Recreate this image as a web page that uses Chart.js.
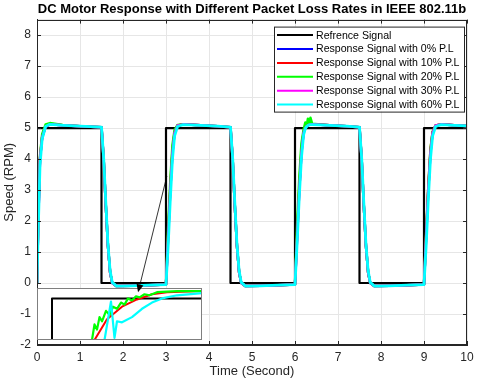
<!DOCTYPE html>
<html><head><meta charset="utf-8">
<script src="https://cdn.jsdelivr.net/npm/chart.js@4/dist/chart.umd.min.js"></script>
<style>
html,body{margin:0;padding:0;background:#fff;}
#wrap{position:relative;width:480px;height:385px;overflow:hidden;}
canvas{position:absolute;}
</style></head><body>
<div id="wrap">
<canvas id="main" width="480" height="385" style="left:0;top:0"></canvas>
<canvas id="inset" width="165" height="52" style="left:37px;top:288px"></canvas>
<canvas id="arrow" width="480" height="385" style="left:0;top:0;pointer-events:none"></canvas>
</div>
<script>
// ---------------- DATA ----------------
const chartTitle = 'DC Motor Response with Different Packet Loss Rates in IEEE 802.11b';
const xTitle = 'Time (Second)';
const yTitle = 'Speed (RPM)';
const seriesLabels = ['Refrence Signal','Response Signal with 0% P.L','Response Signal with 10% P.L',
  'Response Signal with 20% P.L','Response Signal with 30% P.L','Response Signal with 60% P.L'];

// reference square wave (value holds until next time)
const refTime  = [0, 1.5, 3, 4.5, 6, 7.5, 9, 10];
const refSpeed = [5, 0,   5, 0,   5, 0,   5, 5];

// sample times for the response signals
const timeS = [0,0.03,0.07,0.12,0.2,0.3,0.6,1.0,1.5,
  1.55,1.6,1.65,1.7,1.75,1.85,2.2,2.6,3.0,
  3.05,3.1,3.15,3.2,3.27,3.4,3.8,4.2,4.5,
  4.55,4.6,4.65,4.7,4.75,4.85,5.2,5.6,6.0,
  6.05,6.1,6.15,6.2,6.24,6.27,6.3,6.33,6.36,6.4,6.8,7.2,7.5,
  7.55,7.6,7.65,7.7,7.75,7.85,8.2,8.6,9.0,
  9.05,9.1,9.15,9.2,9.27,9.4,9.7,10.0];

const speedPL0 = [0,2.0,4.0,4.7,5.05,5.12,5.09,5.06,5.03,
  4.0,2.5,1.2,0.35,0.0,-0.1,-0.09,-0.07,-0.05,
  1.5,3.0,4.2,4.85,5.08,5.12,5.09,5.06,5.03,
  4.0,2.5,1.2,0.35,0.0,-0.1,-0.09,-0.07,-0.05,
  1.5,3.0,4.2,4.85,5.0,5.06,5.09,5.11,5.12,5.12,5.09,5.06,5.03,
  4.0,2.5,1.2,0.35,0.0,-0.1,-0.09,-0.07,-0.05,
  1.5,3.0,4.2,4.85,5.08,5.12,5.09,5.07];
const speedPL10 = [0,2.1,4.05,4.72,5.06,5.12,5.09,5.06,5.03,
  4.0,2.5,1.2,0.35,0.0,-0.1,-0.09,-0.07,-0.05,
  1.6,3.1,4.3,4.88,5.08,5.12,5.09,5.06,5.03,
  4.0,2.5,1.2,0.35,0.0,-0.1,-0.09,-0.07,-0.05,
  1.6,3.1,4.3,4.88,5.03,5.08,5.1,5.12,5.12,5.12,5.09,5.06,5.03,
  4.0,2.5,1.2,0.35,0.0,-0.1,-0.09,-0.07,-0.05,
  1.6,3.1,4.3,4.88,5.08,5.12,5.09,5.07];
const speedPL20 = [0,2.2,4.1,4.8,5.12,5.16,5.1,5.06,5.03,
  4.0,2.5,1.2,0.35,0.0,-0.1,-0.09,-0.07,-0.05,
  1.8,3.3,4.45,4.95,5.1,5.12,5.09,5.06,5.03,
  4.0,2.5,1.2,0.35,0.0,-0.1,-0.09,-0.07,-0.05,
  1.9,3.4,4.5,4.95,5.18,5.05,5.3,5.12,5.33,5.14,5.09,5.06,5.03,
  4.0,2.5,1.2,0.35,0.0,-0.1,-0.09,-0.07,-0.05,
  1.6,3.1,4.3,4.88,5.08,5.12,5.09,5.07];
const speedPL30 = [0,2.0,4.0,4.7,5.05,5.12,5.09,5.06,5.03,
  4.0,2.5,1.2,0.35,0.0,-0.1,-0.09,-0.07,-0.05,
  1.5,3.0,4.2,4.85,5.08,5.12,5.09,5.06,5.03,
  4.0,2.5,1.2,0.35,0.0,-0.1,-0.09,-0.07,-0.05,
  1.5,3.0,4.2,4.85,5.0,5.06,5.09,5.11,5.12,5.12,5.09,5.06,5.03,
  4.0,2.5,1.2,0.35,0.0,-0.1,-0.09,-0.07,-0.05,
  1.5,3.0,4.2,4.85,5.08,5.12,5.09,5.07];
const speedPL60 = [0,1.8,3.8,4.65,5.05,5.12,5.09,5.06,5.03,
  4.05,2.6,1.25,0.4,0.02,-0.1,-0.09,-0.07,-0.05,
  1.2,2.7,4.0,4.75,5.05,5.11,5.09,5.06,5.03,
  4.05,2.6,1.25,0.4,0.02,-0.1,-0.09,-0.07,-0.05,
  1.3,2.8,4.05,4.78,4.98,5.05,5.08,5.1,5.11,5.11,5.09,5.06,5.03,
  4.05,2.6,1.25,0.4,0.02,-0.1,-0.09,-0.07,-0.05,
  1.2,2.7,4.0,4.75,5.05,5.11,5.09,5.07];

// inset (magnified rising edge near t = 3 s)
const insetRefTime  = [3.0, 3.0, 3.3];
const insetRefSpeed = [4.0, 5.0, 5.0];
const insetRedTime  = [3.085,3.11,3.14,3.17,3.2,3.23,3.3];
const insetRedSpeed = [4.6,4.8,4.92,4.99,5.04,5.06,5.07];
const insetGreenTime  = [3.08,3.085,3.09,3.095,3.1,3.108,3.115,3.122,3.13,3.138,3.145,3.152,3.16,3.168,3.175,3.185,3.195,3.21,3.25,3.3];
const insetGreenSpeed = [4.6,4.75,4.7,4.82,4.78,4.88,4.84,4.92,4.9,4.96,4.94,5.0,4.98,5.02,5.01,5.04,5.03,5.06,5.07,5.07];
const insetCyanTime  = [3.105,3.118,3.125,3.13,3.14,3.16,3.18,3.2,3.22,3.25,3.3];
const insetCyanSpeed = [4.6,4.97,4.62,4.78,4.77,4.82,4.9,4.96,5.0,5.03,5.05];

// ---------------- STYLE ----------------
const FONT = "'Liberation Sans', Arial, Helvetica, sans-serif";
Chart.defaults.font.family = FONT;
Chart.defaults.color = '#262626';
const colors = ['#000000','#0000ff','#ff0000','#00ff00','#ff00ff','#00ffff'];
const widths = [2.2, 2.5, 2.5, 2.5, 2.5, 2.8];
const drawOrder = [5, 4, 3, 2, 1, 0]; // cyan on top

const pts = (xs, ys) => xs.map((x, i) => ({x, y: ys[i]}));
const respSeries = [speedPL0, speedPL10, speedPL20, speedPL30, speedPL60];

const datasets = [{
  label: seriesLabels[0], data: pts(refTime, refSpeed), stepped: 'before',
  borderColor: colors[0], borderWidth: widths[0], order: drawOrder[0]
}].concat(respSeries.map((s, k) => ({
  label: seriesLabels[k + 1], data: pts(timeS, s),
  borderColor: colors[k + 1], borderWidth: widths[k + 1], order: drawOrder[k + 1]
})));

const frame = {
  id: 'frame',
  afterDatasetsDraw(chart) {
    const ctx = chart.ctx, ca = chart.chartArea, xs = chart.scales.x, ys = chart.scales.y;
    ctx.save();
    ctx.strokeStyle = '#262626'; ctx.lineWidth = 1;
    ctx.beginPath();
    xs.ticks.forEach(t => {
      const px = Math.round(xs.getPixelForValue(t.value)) + 0.5;
      ctx.moveTo(px, ca.bottom); ctx.lineTo(px, ca.bottom - 4);
      ctx.moveTo(px, ca.top); ctx.lineTo(px, ca.top + 4);
    });
    ys.ticks.forEach(t => {
      if (!Number.isInteger(t.value)) return;
      const py = Math.round(ys.getPixelForValue(t.value)) + 0.5;
      ctx.moveTo(ca.left, py); ctx.lineTo(ca.left + 4, py);
      ctx.moveTo(ca.right, py); ctx.lineTo(ca.right - 4, py);
    });
    ctx.stroke();
    ctx.strokeRect(Math.round(ca.left) + 0.5, Math.round(ca.top) + 0.5, Math.round(ca.right - ca.left) - 1, Math.round(ca.bottom - ca.top) - 1);
    ctx.restore();
  }
};

const boxLegend = {
  id: 'boxLegend',
  afterDatasetsDraw(chart) {
    const ctx = chart.ctx, ca = chart.chartArea;
    const x0 = ca.right - 193, y0 = ca.top + 7, w = 190, h = 85;
    ctx.save();
    ctx.fillStyle = '#fff'; ctx.fillRect(x0, y0, w, h);
    ctx.strokeStyle = '#262626'; ctx.lineWidth = 1;
    ctx.strokeRect(x0 + 0.5, y0 + 0.5, w, h);
    ctx.font = '10.6px ' + FONT; ctx.textBaseline = 'middle'; ctx.fillStyle = '#000';
    chart.data.datasets.forEach((ds, i) => {
      const y = y0 + 8.5 + i * 13.9;
      ctx.strokeStyle = ds.borderColor; ctx.lineWidth = 2;
      ctx.beginPath(); ctx.moveTo(x0 + 3, y); ctx.lineTo(x0 + 39, y); ctx.stroke();
      ctx.fillText(ds.label, x0 + 42, y + 0.5);
    });
    ctx.restore();
  }
};

const arrowPlugin = {
  id: 'arrow',
  afterRender(chart) {
    const c = document.getElementById('arrow'), ctx = c.getContext('2d');
    const xs = chart.scales.x, ys = chart.scales.y;
    const x1 = xs.getPixelForValue(3.02), y1 = ys.getPixelForValue(3.45);
    const x2 = xs.getPixelForValue(2.35), y2 = ys.getPixelForValue(-0.3);
    ctx.clearRect(0, 0, c.width, c.height);
    ctx.strokeStyle = '#000'; ctx.fillStyle = '#000'; ctx.lineWidth = 0.8;
    const ang = Math.atan2(y2 - y1, x2 - x1), L = 8, W = 3.5;
    const bx = x2 - L * Math.cos(ang), by = y2 - L * Math.sin(ang);
    ctx.beginPath(); ctx.moveTo(x1, y1); ctx.lineTo(bx, by); ctx.stroke();
    ctx.beginPath();
    ctx.moveTo(x2, y2);
    ctx.lineTo(bx + W * Math.sin(ang), by - W * Math.cos(ang));
    ctx.lineTo(bx - W * Math.sin(ang), by + W * Math.cos(ang));
    ctx.closePath(); ctx.fill();
  }
};

new Chart(document.getElementById('main'), {
  type: 'line',
  data: { datasets },
  options: {
    responsive: false, animation: false, devicePixelRatio: 1,
    layout: { padding: { left: 0, right: 13, top: 0, bottom: 0 } },
    elements: { point: { radius: 0 }, line: { tension: 0, borderJoinStyle: 'round', borderCapStyle: 'round' } },
    plugins: {
      legend: { display: false }, tooltip: { enabled: false },
      title: { display: true, text: chartTitle, fullSize: false, color: '#000',
        font: { size: 13, weight: 'bold' }, padding: { top: 2, bottom: 2 } }
    },
    scales: {
      x: { type: 'linear', min: 0, max: 10,
        ticks: { stepSize: 1, font: { size: 12 }, padding: 5, color: '#262626', maxRotation: 0 },
        grid: { color: '#e6e6e6', drawTicks: false },
        border: { color: '#262626' },
        title: { display: true, text: xTitle, font: { size: 13 }, color: '#262626', padding: { top: 6, bottom: 6 } },
        afterFit(s) { s.height = 40; } },
      y: { type: 'linear', min: -2, max: 8.5,
        ticks: { stepSize: 1, font: { size: 12 }, padding: 6, color: '#262626',
          callback: v => Number.isInteger(v) ? v : '' },
        grid: { color: '#e6e6e6', drawTicks: false },
        border: { color: '#262626' },
        title: { display: true, text: yTitle, font: { size: 13 }, color: '#262626', padding: { top: 2, bottom: 2 } },
        afterFit(s) { s.width = 37; } }
    }
  },
  plugins: [frame, boxLegend, arrowPlugin]
});

// ---------------- INSET ----------------
const insetFrame = {
  id: 'insetFrame',
  beforeDraw(chart) { const c = chart.ctx; c.save(); c.fillStyle = '#fff'; c.fillRect(0, 0, chart.width, chart.height); c.restore(); },
  afterDraw(chart) { const c = chart.ctx; c.save(); c.strokeStyle = '#7f7f7f'; c.lineWidth = 1; c.strokeRect(0.5, 0.5, chart.width - 1, chart.height - 1); c.restore(); }
};
new Chart(document.getElementById('inset'), {
  type: 'line',
  data: { datasets: [
    { label: seriesLabels[0], data: pts(insetRefTime, insetRefSpeed), borderColor: colors[0], borderWidth: 2, order: 3 },
    { label: seriesLabels[2], data: pts(insetRedTime, insetRedSpeed), borderColor: colors[2], borderWidth: 2, order: 2 },
    { label: seriesLabels[3], data: pts(insetGreenTime, insetGreenSpeed), borderColor: colors[3], borderWidth: 2.2, order: 1 },
    { label: seriesLabels[5], data: pts(insetCyanTime, insetCyanSpeed), borderColor: colors[5], borderWidth: 2.2, order: 0 }
  ] },
  options: {
    responsive: false, animation: false, devicePixelRatio: 1,
    layout: { padding: 0 },
    elements: { point: { radius: 0 }, line: { tension: 0, borderJoinStyle: 'round' } },
    plugins: { legend: { display: false }, tooltip: { enabled: false }, title: { display: false } },
    scales: {
      x: { type: 'linear', min: 2.97, max: 3.3, display: false },
      y: { type: 'linear', min: 4.6, max: 5.1, display: false }
    }
  },
  plugins: [insetFrame]
});
</script>
</body></html>
